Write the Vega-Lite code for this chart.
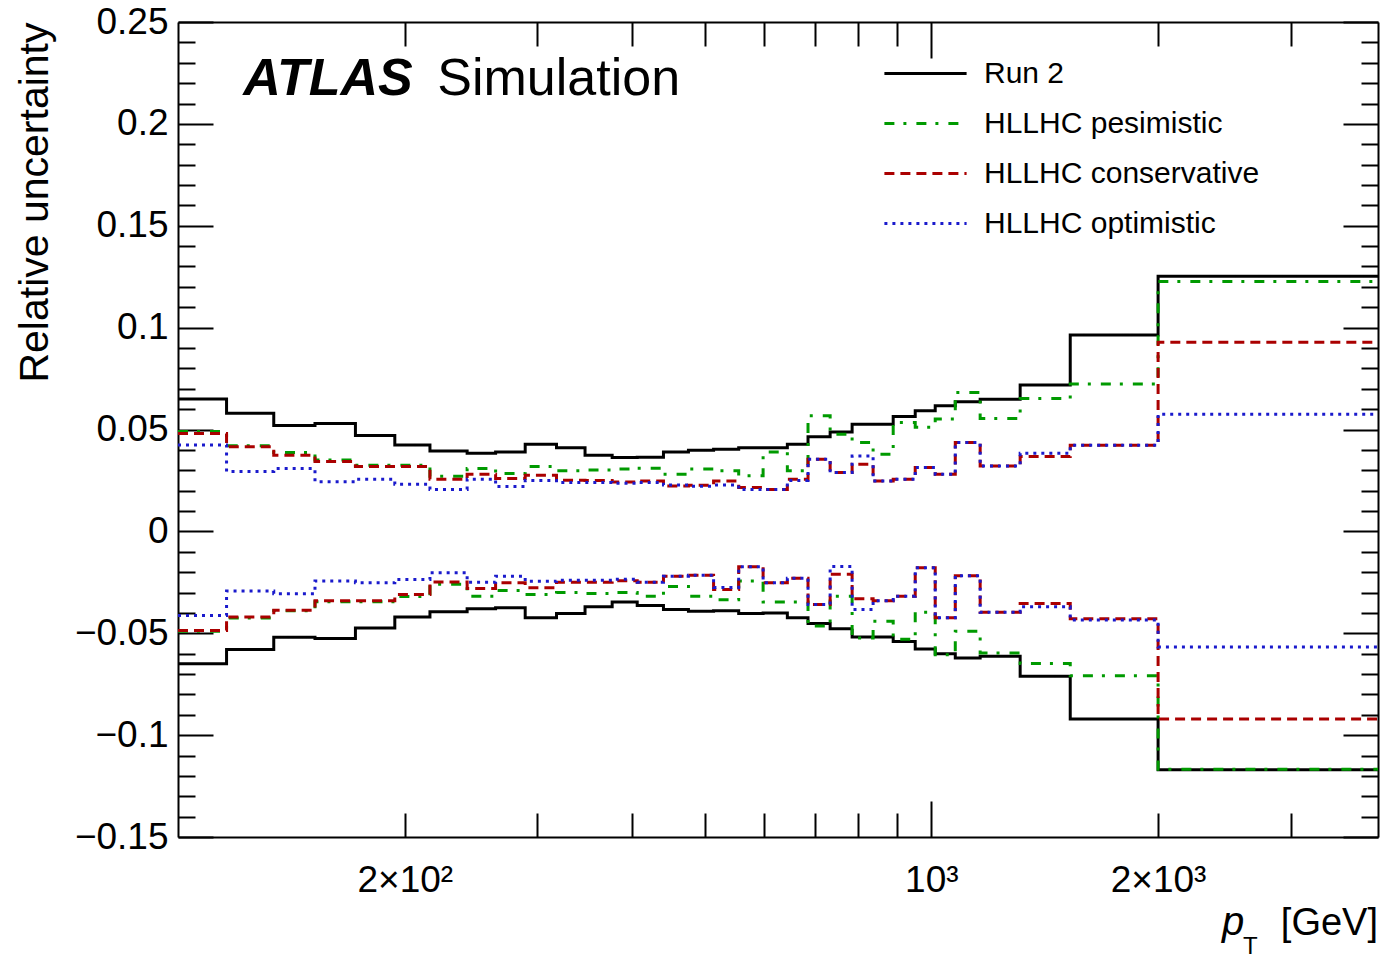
{
  "$schema": "https://vega.github.io/schema/vega-lite/v6.json",
  "width": 1200,
  "height": 815,
  "autosize": {"type": "none"},
  "padding": {"left": 178, "top": 22, "right": 3, "bottom": 121},
  "background": "white",
  "config": {
    "view": {"stroke": null},
    "font": "Liberation Sans",
    "axis": {
      "grid": false,
      "domainColor": "black",
      "domainWidth": 2,
      "tickColor": "black",
      "tickWidth": 2,
      "labelColor": "black",
      "labelFont": "Liberation Sans",
      "titleColor": "black",
      "titleFont": "Liberation Sans",
      "titleFontWeight": "normal",
      "labelOverlap": false,
      "labelFlush": false
    },
    "legend": {
      "orient": "none",
      "legendX": 716,
      "legendY": 20,
      "symbolType": "M-1.37,0H1.37",
      "symbolSize": 3600,
      "symbolStrokeWidth": 3,
      "labelFontSize": 30,
      "labelFont": "Liberation Sans",
      "labelColor": "black",
      "labelOffset": 27,
      "labelLimit": 0,
      "rowPadding": 3,
      "padding": 0
    }
  },
  "data": {
    "values": [
      {"pt": 100, "r2u": 0.065, "r2d": -0.065, "peu": 0.049, "ped": -0.049, "cou": 0.048, "cod": -0.0487, "opu": 0.0424, "opd": -0.0413},
      {"pt": 116, "r2u": 0.058, "r2d": -0.058, "peu": 0.042, "ped": -0.0425, "cou": 0.0415, "cod": -0.042, "opu": 0.0294, "opd": -0.0293},
      {"pt": 134, "r2u": 0.052, "r2d": -0.052, "peu": 0.0387, "ped": -0.039, "cou": 0.0374, "cod": -0.0387, "opu": 0.0308, "opd": -0.0306},
      {"pt": 152, "r2u": 0.053, "r2d": -0.0526, "peu": 0.035, "ped": -0.0345, "cou": 0.0343, "cod": -0.034, "opu": 0.0244, "opd": -0.0244},
      {"pt": 172, "r2u": 0.047, "r2d": -0.0474, "peu": 0.0325, "ped": -0.0345, "cou": 0.0318, "cod": -0.034, "opu": 0.0256, "opd": -0.0252},
      {"pt": 194, "r2u": 0.0424, "r2d": -0.042, "peu": 0.0325, "ped": -0.032, "cou": 0.0318, "cod": -0.031, "opu": 0.0231, "opd": -0.0236},
      {"pt": 216, "r2u": 0.0395, "r2d": -0.0395, "peu": 0.027, "ped": -0.026, "cou": 0.0256, "cod": -0.0249, "opu": 0.0206, "opd": -0.0203},
      {"pt": 242, "r2u": 0.0383, "r2d": -0.038, "peu": 0.0308, "ped": -0.0318, "cou": 0.028, "cod": -0.028, "opu": 0.0256, "opd": -0.025},
      {"pt": 264, "r2u": 0.039, "r2d": -0.0375, "peu": 0.0284, "ped": -0.029, "cou": 0.0259, "cod": -0.0252, "opu": 0.022, "opd": -0.022},
      {"pt": 289, "r2u": 0.0428, "r2d": -0.0424, "peu": 0.0318, "ped": -0.031, "cou": 0.0275, "cod": -0.0277, "opu": 0.025, "opd": -0.0245},
      {"pt": 318, "r2u": 0.0411, "r2d": -0.0403, "peu": 0.0297, "ped": -0.03, "cou": 0.0251, "cod": -0.025, "opu": 0.024, "opd": -0.024},
      {"pt": 347, "r2u": 0.0374, "r2d": -0.037, "peu": 0.0301, "ped": -0.0305, "cou": 0.025, "cod": -0.025, "opu": 0.024, "opd": -0.024},
      {"pt": 377, "r2u": 0.0362, "r2d": -0.0347, "peu": 0.0306, "ped": -0.03, "cou": 0.0242, "cod": -0.0242, "opu": 0.0236, "opd": -0.0235},
      {"pt": 407, "r2u": 0.0364, "r2d": -0.0364, "peu": 0.031, "ped": -0.0318, "cou": 0.0247, "cod": -0.025, "opu": 0.024, "opd": -0.025},
      {"pt": 441, "r2u": 0.039, "r2d": -0.0383, "peu": 0.028, "ped": -0.027, "cou": 0.0223, "cod": -0.022, "opu": 0.0227, "opd": -0.022},
      {"pt": 476, "r2u": 0.0398, "r2d": -0.0392, "peu": 0.0306, "ped": -0.0318, "cou": 0.0226, "cod": -0.0215, "opu": 0.0222, "opd": -0.0215},
      {"pt": 514, "r2u": 0.0403, "r2d": -0.039, "peu": 0.0297, "ped": -0.0336, "cou": 0.0247, "cod": -0.0285, "opu": 0.0227, "opd": -0.0275},
      {"pt": 555, "r2u": 0.041, "r2d": -0.0403, "peu": 0.0273, "ped": -0.0244, "cou": 0.0215, "cod": -0.0174, "opu": 0.0205, "opd": -0.0174},
      {"pt": 598, "r2u": 0.041, "r2d": -0.04, "peu": 0.039, "ped": -0.0347, "cou": 0.0206, "cod": -0.0252, "opu": 0.0206, "opd": -0.0252},
      {"pt": 644, "r2u": 0.0428, "r2d": -0.0424, "peu": 0.0297, "ped": -0.0347, "cou": 0.0256, "cod": -0.023, "opu": 0.025, "opd": -0.023},
      {"pt": 686, "r2u": 0.0465, "r2d": -0.0452, "peu": 0.0567, "ped": -0.0465, "cou": 0.0354, "cod": -0.0359, "opu": 0.0354, "opd": -0.0359},
      {"pt": 734, "r2u": 0.0488, "r2d": -0.0478, "peu": 0.0477, "ped": -0.0318, "cou": 0.0289, "cod": -0.0211, "opu": 0.0289, "opd": -0.0173},
      {"pt": 785, "r2u": 0.0526, "r2d": -0.0518, "peu": 0.0436, "ped": -0.0523, "cou": 0.033, "cod": -0.0331, "opu": 0.037, "opd": -0.0383},
      {"pt": 837, "r2u": 0.0526, "r2d": -0.0518, "peu": 0.0379, "ped": -0.0441, "cou": 0.0247, "cod": -0.034, "opu": 0.0247, "opd": -0.034},
      {"pt": 890, "r2u": 0.0564, "r2d": -0.054, "peu": 0.0534, "ped": -0.053, "cou": 0.0256, "cod": -0.0318, "opu": 0.0256, "opd": -0.0318},
      {"pt": 952, "r2u": 0.0592, "r2d": -0.0577, "peu": 0.0511, "ped": -0.0397, "cou": 0.0313, "cod": -0.0179, "opu": 0.0313, "opd": -0.0179},
      {"pt": 1012, "r2u": 0.0616, "r2d": -0.06, "peu": 0.0552, "ped": -0.0605, "cou": 0.028, "cod": -0.0424, "opu": 0.028, "opd": -0.0424},
      {"pt": 1076, "r2u": 0.0636, "r2d": -0.0621, "peu": 0.0682, "ped": -0.049, "cou": 0.0436, "cod": -0.0218, "opu": 0.0436, "opd": -0.0218},
      {"pt": 1161, "r2u": 0.0649, "r2d": -0.0613, "peu": 0.0554, "ped": -0.0597, "cou": 0.0321, "cod": -0.0397, "opu": 0.0321, "opd": -0.0397},
      {"pt": 1312, "r2u": 0.0718, "r2d": -0.0711, "peu": 0.0652, "ped": -0.0649, "cou": 0.0367, "cod": -0.0354, "opu": 0.0383, "opd": -0.037},
      {"pt": 1529, "r2u": 0.0964, "r2d": -0.0921, "peu": 0.0723, "ped": -0.0708, "cou": 0.0423, "cod": -0.0429, "opu": 0.0423, "opd": -0.0435},
      {"pt": 2000, "r2u": 0.1252, "r2d": -0.117, "peu": 0.1226, "ped": -0.1167, "cou": 0.0928, "cod": -0.0921, "opu": 0.0575, "opd": -0.0567},
      {"pt": 3917, "r2u": 0.1252, "r2d": -0.117, "peu": 0.1226, "ped": -0.1167, "cou": 0.0928, "cod": -0.0921, "opu": 0.0575, "opd": -0.0567}
    ]
  },
  "layer": [
    {
      "transform": [{"fold": ["r2u", "r2d"], "as": ["curve", "v"]}],
      "mark": {"type": "line", "interpolate": "step-after", "strokeWidth": 3, "strokeCap": "butt"},
      "encoding": {
        "x": {
          "field": "pt", "type": "quantitative",
          "scale": {"type": "log", "domain": [100, 3917], "nice": false},
          "axis": {
            "orient": "bottom",
            "values": [200, 300, 400, 500, 600, 700, 800, 900, 2000, 3000],
            "tickSize": -24,
            "labelExpr": "datum.value == 200 ? '2×10²' : datum.value == 2000 ? '2×10³' : ''",
            "labelFontSize": 37,
            "labelBaseline": "alphabetic",
            "labelPadding": 78,
            "title": null
          }
        },
        "y": {
          "field": "v", "type": "quantitative",
          "scale": {"domain": [-0.15, 0.25], "nice": false, "zero": false},
          "axis": {
            "orient": "left",
            "values": [-0.15, -0.1, -0.05, 0, 0.05, 0.1, 0.15, 0.2, 0.25],
            "format": ".2~f",
            "tickSize": -35,
            "labelFontSize": 37,
            "labelPadding": 45,
            "title": "Relative uncertainty",
            "titleFontSize": 41,
            "titleAngle": -90,
            "titleX": -131,
            "titleY": 0,
            "titleAlign": "right",
            "titleBaseline": "alphabetic"
          }
        },
        "detail": {"field": "curve"},
        "color": {
          "datum": "Run 2", "type": "nominal",
          "scale": {"domain": ["Run 2", "HLLHC pesimistic", "HLLHC conservative", "HLLHC optimistic"], "range": ["#000000", "#009a00", "#aa0000", "#1a1acc"]},
          "legend": {"title": null}
        },
        "strokeDash": {
          "datum": "Run 2", "type": "nominal",
          "scale": {"domain": ["Run 2", "HLLHC pesimistic", "HLLHC conservative", "HLLHC optimistic"], "range": [[1, 0], [10, 9, 3, 10], [10, 6], [3, 5]]},
          "legend": {"title": null}
        }
      }
    },
    {
      "transform": [{"fold": ["peu", "ped"], "as": ["curve", "v"]}],
      "mark": {"type": "line", "interpolate": "step-after", "strokeWidth": 3, "strokeCap": "butt"},
      "encoding": {
        "x": {
          "field": "pt", "type": "quantitative",
          "scale": {"type": "log", "domain": [100, 3917], "nice": false},
          "axis": {
            "orient": "top",
            "values": [200, 300, 400, 500, 600, 700, 800, 900, 2000, 3000],
            "tickSize": -24,
            "labels": false,
            "title": null
          }
        },
        "y": {
          "field": "v", "type": "quantitative",
          "scale": {"domain": [-0.15, 0.25], "nice": false, "zero": false},
          "axis": {
            "orient": "left",
            "values": [-0.14, -0.13, -0.12, -0.11, -0.09, -0.08, -0.07, -0.06, -0.04, -0.03, -0.02, -0.01, 0.01, 0.02, 0.03, 0.04, 0.06, 0.07, 0.08, 0.09, 0.11, 0.12, 0.13, 0.14, 0.16, 0.17, 0.18, 0.19, 0.21, 0.22, 0.23, 0.24],
            "tickSize": -17,
            "labels": false,
            "domain": false,
            "title": null
          }
        },
        "detail": {"field": "curve"},
        "color": {"datum": "HLLHC pesimistic", "type": "nominal", "legend": {"title": null}},
        "strokeDash": {"datum": "HLLHC pesimistic", "type": "nominal", "legend": {"title": null}}
      }
    },
    {
      "transform": [{"fold": ["cou", "cod"], "as": ["curve", "v"]}],
      "mark": {"type": "line", "interpolate": "step-after", "strokeWidth": 3, "strokeCap": "butt"},
      "encoding": {
        "x": {
          "field": "pt", "type": "quantitative",
          "scale": {"type": "log", "domain": [100, 3917], "nice": false},
          "axis": {
            "orient": "bottom",
            "values": [1000],
            "tickSize": -36,
            "domain": false,
            "labelExpr": "'10³'",
            "labelFontSize": 37,
            "labelBaseline": "alphabetic",
            "labelPadding": 90,
            "title": null
          }
        },
        "y": {
          "field": "v", "type": "quantitative",
          "scale": {"domain": [-0.15, 0.25], "nice": false, "zero": false},
          "axis": {
            "orient": "right",
            "values": [-0.15, -0.1, -0.05, 0, 0.05, 0.1, 0.15, 0.2, 0.25],
            "tickSize": -35,
            "labels": false,
            "title": null
          }
        },
        "detail": {"field": "curve"},
        "color": {"datum": "HLLHC conservative", "type": "nominal", "legend": {"title": null}},
        "strokeDash": {"datum": "HLLHC conservative", "type": "nominal", "legend": {"title": null}}
      }
    },
    {
      "transform": [{"fold": ["opu", "opd"], "as": ["curve", "v"]}],
      "mark": {"type": "line", "interpolate": "step-after", "strokeWidth": 3, "strokeCap": "butt"},
      "encoding": {
        "x": {
          "field": "pt", "type": "quantitative",
          "scale": {"type": "log", "domain": [100, 3917], "nice": false},
          "axis": {
            "orient": "top",
            "values": [1000],
            "tickSize": -36,
            "domain": false,
            "labels": false,
            "title": null
          }
        },
        "y": {
          "field": "v", "type": "quantitative",
          "scale": {"domain": [-0.15, 0.25], "nice": false, "zero": false},
          "axis": {
            "orient": "right",
            "values": [-0.14, -0.13, -0.12, -0.11, -0.09, -0.08, -0.07, -0.06, -0.04, -0.03, -0.02, -0.01, 0.01, 0.02, 0.03, 0.04, 0.06, 0.07, 0.08, 0.09, 0.11, 0.12, 0.13, 0.14, 0.16, 0.17, 0.18, 0.19, 0.21, 0.22, 0.23, 0.24],
            "tickSize": -17,
            "labels": false,
            "domain": false,
            "title": null
          }
        },
        "detail": {"field": "curve"},
        "color": {"datum": "HLLHC optimistic", "type": "nominal", "legend": {"title": null}},
        "strokeDash": {"datum": "HLLHC optimistic", "type": "nominal", "legend": {"title": null}}
      }
    },
    {
      "data": {"values": [{"t": "ATLAS"}]},
      "mark": {"type": "text", "font": "Liberation Sans", "fontSize": 52, "fontWeight": "bold", "fontStyle": "italic", "align": "left", "baseline": "alphabetic", "color": "black"},
      "encoding": {
        "x": {"datum": 122.1, "type": "quantitative", "scale": {"type": "log", "domain": [100, 3917], "nice": false}, "axis": null},
        "y": {"datum": 0.2144, "type": "quantitative", "scale": {"domain": [-0.15, 0.25], "nice": false, "zero": false}, "axis": null},
        "text": {"field": "t"}
      }
    },
    {
      "data": {"values": [{"t": "Simulation"}]},
      "mark": {"type": "text", "font": "Liberation Sans", "fontSize": 52, "align": "left", "baseline": "alphabetic", "color": "black"},
      "encoding": {
        "x": {"datum": 220.9, "type": "quantitative", "scale": {"type": "log", "domain": [100, 3917], "nice": false}, "axis": null},
        "y": {"datum": 0.2144, "type": "quantitative", "scale": {"domain": [-0.15, 0.25], "nice": false, "zero": false}, "axis": null},
        "text": {"field": "t"}
      }
    },
    {
      "data": {"values": [{"t": "p"}]},
      "mark": {"type": "text", "font": "Liberation Sans", "fontSize": 40, "fontStyle": "italic", "align": "left", "baseline": "alphabetic", "color": "black"},
      "encoding": {
        "x": {"datum": 2432, "type": "quantitative", "scale": {"type": "log", "domain": [100, 3917], "nice": false}, "axis": null},
        "y": {"datum": -0.198, "type": "quantitative", "scale": {"domain": [-0.15, 0.25], "nice": false, "zero": false}, "axis": null},
        "text": {"field": "t"}
      }
    },
    {
      "data": {"values": [{"t": "T"}]},
      "mark": {"type": "text", "font": "Liberation Sans", "fontSize": 24, "align": "left", "baseline": "alphabetic", "color": "black"},
      "encoding": {
        "x": {"datum": 2593, "type": "quantitative", "scale": {"type": "log", "domain": [100, 3917], "nice": false}, "axis": null},
        "y": {"datum": -0.2075, "type": "quantitative", "scale": {"domain": [-0.15, 0.25], "nice": false, "zero": false}, "axis": null},
        "text": {"field": "t"}
      }
    },
    {
      "data": {"values": [{"t": "[GeV]"}]},
      "mark": {"type": "text", "font": "Liberation Sans", "fontSize": 38, "align": "right", "baseline": "alphabetic", "color": "black"},
      "encoding": {
        "x": {"datum": 3917, "type": "quantitative", "scale": {"type": "log", "domain": [100, 3917], "nice": false}, "axis": null},
        "y": {"datum": -0.198, "type": "quantitative", "scale": {"domain": [-0.15, 0.25], "nice": false, "zero": false}, "axis": null},
        "text": {"field": "t"}
      }
    }
  ],
  "resolve": {"axis": {"x": "independent", "y": "independent"}}
}
